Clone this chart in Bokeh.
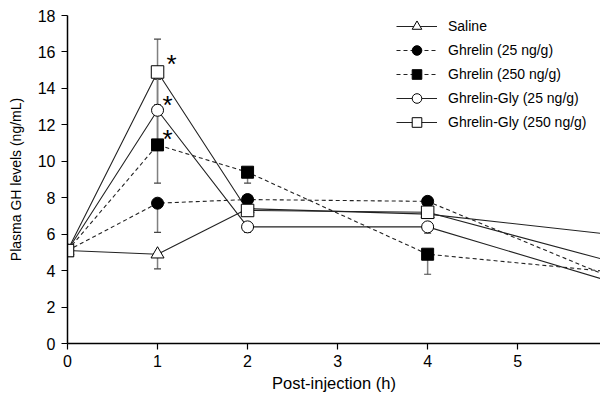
from bokeh.plotting import figure
from bokeh.models import Range1d, Legend, LegendItem, FixedTicker
from bokeh.core.properties import value
from bokeh.embed import file_html
from bokeh.resources import INLINE

# ---- data ----
times = [0, 1, 2, 4, 6]
saline = [5.1, 4.9, 7.4, 7.1, 6.0]
ghrelin25 = [5.1, 7.7, 7.9, 7.8, 3.7]
ghrelin250 = [5.1, 10.9, 9.4, 4.9, 3.95]
gg25 = [5.1, 12.8, 6.4, 6.4, 3.45]
gg250 = [5.1, 14.9, 7.3, 7.2, 4.55]

# error (lower, upper) per time point
saline_lo = [0, 0.8, 0, 0, 0]
saline_hi = [0, 0, 0, 0, 0]
ghrelin25_lo = [0, 1.6, 0, 0, 0]
ghrelin25_hi = [0, 0, 0, 0, 0]
ghrelin250_lo = [0, 2.1, 0.6, 1.1, 0]
ghrelin250_hi = [0, 1.9, 0, 0, 0]
gg25_lo = [0, 1.7, 0.3, 0.35, 0]
gg25_hi = [0, 1.7, 0, 0, 0]
gg250_lo = [0, 1.8, 0.3, 0.25, 0]
gg250_hi = [0, 1.8, 0, 0, 0]

labels = ["Saline", "Ghrelin (25 ng/g)", "Ghrelin (250 ng/g)",
          "Ghrelin-Gly (25 ng/g)", "Ghrelin-Gly (250 ng/g)"]

star_x = [1, 1, 1]
star_y = [14.9, 12.8, 10.9]

x_ticks = [0, 1, 2, 3, 4, 5]
y_ticks = [0, 2, 4, 6, 8, 10, 12, 14, 16, 18]

FONT = "Liberation Sans"

p = figure(width=600, height=395, output_backend="svg", toolbar_location=None,
           x_range=Range1d(0, 5.92), y_range=Range1d(0, 18),
           min_border_left=67, min_border_right=0, min_border_top=15,
           min_border_bottom=52)
p.outline_line_color = None
p.xgrid.visible = False
p.ygrid.visible = False
p.background_fill_color = "white"

for ax in (p.xaxis[0], p.yaxis[0]):
    ax.axis_line_width = 1.5
    ax.axis_line_color = "black"
    ax.major_tick_line_color = "black"
    ax.major_tick_line_width = 1.2
    ax.major_tick_out = 6
    ax.major_tick_in = 0
    ax.minor_tick_line_color = None
    ax.major_label_text_font = FONT
    ax.major_label_text_font_size = "16px"
    ax.major_label_text_color = "black"
    ax.axis_label_text_font = FONT
    ax.axis_label_text_font_style = "normal"
    ax.axis_label_text_color = "black"
p.xaxis.ticker = FixedTicker(ticks=x_ticks)
p.yaxis.ticker = FixedTicker(ticks=y_ticks)
p.xaxis.axis_label = "Post-injection (h)"
p.yaxis.axis_label = "Plasma GH levels (ng/mL)"
p.xaxis.axis_label_text_font_size = "16.5px"
p.yaxis.axis_label_text_font_size = "14px"
p.xaxis.major_label_standoff = 5
p.yaxis.major_label_standoff = 6
p.xaxis.axis_label_standoff = 4
p.yaxis.axis_label_standoff = 11

series = [
    (saline, saline_lo, saline_hi, "triangle", "white", "solid", 13),
    (ghrelin25, ghrelin25_lo, ghrelin25_hi, "circle", "black", "4 3", 12),
    (ghrelin250, ghrelin250_lo, ghrelin250_hi, "square", "black", "4 3", 12),
    (gg25, gg25_lo, gg25_hi, "circle", "white", "solid", 12),
    (gg250, gg250_lo, gg250_hi, "square", "white", "solid", 12.5),
]

line_rs = []
for ys, lo, hi, mk, fill, dash, sz in series:
    r = p.line(times, ys, line_color="#222222", line_width=1.1, line_dash=dash)
    line_rs.append(r)

# error bars
for ys, lo, hi, mk, fill, dash, sz in series:
    bx, b0, b1 = [], [], []
    for t, y, l, h in zip(times, ys, lo, hi):
        if l > 0:
            bx.append(t); b0.append(y); b1.append(y - l)
        if h > 0:
            bx.append(t); b0.append(y); b1.append(y + h)
    if bx:
        p.segment(x0=bx, y0=b0, x1=bx, y1=b1, line_color="#808080", line_width=1.5)
        p.scatter(x=bx, y=b1, marker="dash", size=7, line_color="#444444", line_width=1.2)

mark_rs = []
for ys, lo, hi, mk, fill, dash, sz in series:
    r = p.scatter(times, ys, marker=mk, size=sz, fill_color=fill,
                  line_color="black", line_width=1)
    mark_rs.append(r)

# asterisks (pixel offsets from their markers)
star_dx = [14, 10, 10]
star_dy = [-8, -5, -6]
p.text(x=star_x, y=star_y, text=["*", "*", "*"], x_offset=star_dx, y_offset=star_dy,
       text_font=value(FONT), text_font_size="26px", text_color="black",
       text_align="center", text_baseline="middle")

items = [LegendItem(label=lab, renderers=[lr, mr])
         for lab, lr, mr in zip(labels, line_rs, mark_rs)]
legend = Legend(items=items, location=(329, 209), glyph_width=41, glyph_height=24,
                label_height=24, spacing=0, padding=0, margin=0,
                label_standoff=11, border_line_color=None,
                background_fill_alpha=0, label_text_font=FONT,
                label_text_font_size="14px", label_text_color="black")
p.add_layout(legend, "center")

open("out.html", "w").write(file_html(p, INLINE))
